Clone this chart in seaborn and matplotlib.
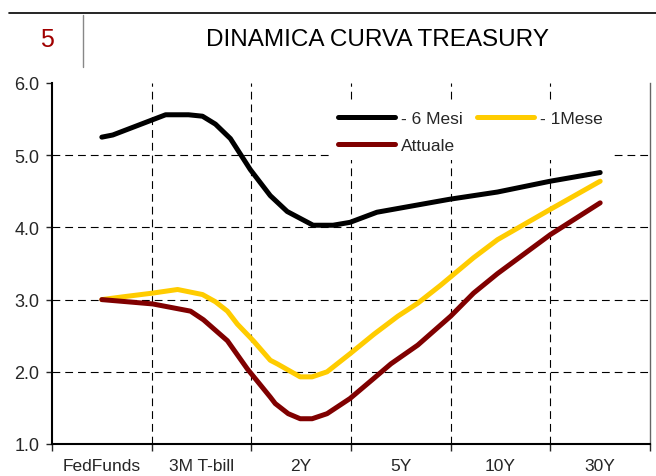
"""
plot.py - Dinamica curva Treasury (yield curve now vs 1 month / 6 months ago).
"""

import matplotlib
matplotlib.use('Agg')
import matplotlib.pyplot as plt
import seaborn as sns
import pandas as pd

# Category labels on the x axis
CATEGORIES = ['FedFunds', '3M T-bill', '2Y', '5Y', '10Y', '30Y']

# Curve (x in category units, 0 = FedFunds)
MESI6_X = [0.0, 0.11, 0.64, 0.87, 1.01, 1.14, 1.29, 1.49, 1.69, 1.86,
           2.12, 2.32, 2.49, 2.76, 3.49, 3.97, 4.50, 5.00]
MESI6_Y = [5.25, 5.28, 5.56, 5.56, 5.54, 5.43, 5.23, 4.80, 4.44, 4.22,
           4.03, 4.03, 4.07, 4.21, 4.39, 4.49, 4.64, 4.76]

MESE1_X = [0.0, 0.22, 0.51, 0.76, 1.01, 1.14, 1.26, 1.36, 1.52, 1.69,
           1.76, 1.99, 2.11, 2.26, 2.49, 2.73, 2.97, 3.17, 3.40, 3.73,
           3.97, 4.50, 5.00]
MESE1_Y = [3.00, 3.04, 3.09, 3.14, 3.07, 2.97, 2.84, 2.66, 2.43, 2.16,
           2.11, 1.93, 1.93, 2.00, 2.25, 2.52, 2.77, 2.95, 3.20, 3.58,
           3.83, 4.25, 4.64]

ATTUALE_X = [0.0, 0.51, 0.89, 1.02, 1.26, 1.46, 1.69, 1.74, 1.87, 1.99,
             2.11, 2.26, 2.49, 2.73, 2.90, 3.17, 3.50, 3.73, 3.97, 4.50,
             5.00]
ATTUALE_Y = [3.00, 2.94, 2.84, 2.72, 2.43, 2.04, 1.65, 1.56, 1.42, 1.35,
             1.35, 1.42, 1.63, 1.91, 2.11, 2.37, 2.77, 3.09, 3.36, 3.90,
             4.34]

SERIES = ['- 6 Mesi', '- 1Mese', 'Attuale']
COLORS = {'- 6 Mesi': '#000000', '- 1Mese': '#FFCC00', 'Attuale': '#800000'}

Y_TICKS = [1.0, 2.0, 3.0, 4.0, 5.0, 6.0]
LW = 3.6

sns.set_style('white')
plt.rcParams['font.family'] = ['Liberation Sans', 'DejaVu Sans']

df = pd.concat([
    pd.DataFrame({'x': MESI6_X, 'y': MESI6_Y, 'serie': SERIES[0]}),
    pd.DataFrame({'x': MESE1_X, 'y': MESE1_Y, 'serie': SERIES[1]}),
    pd.DataFrame({'x': ATTUALE_X, 'y': ATTUALE_Y, 'serie': SERIES[2]}),
], ignore_index=True)

fig = plt.figure(figsize=(6.56, 4.77), dpi=100)
ax = fig.add_axes([52 / 656, 32 / 477, 598 / 656, 361 / 477])

sns.lineplot(data=df, x='x', y='y', hue='serie', hue_order=SERIES,
             palette=COLORS, sort=False, estimator=None, linewidth=LW,
             solid_capstyle='round', solid_joinstyle='round', ax=ax)

ax.set_xlim(-0.5, 5.5)
ax.set_ylim(1.0, 6.0)

# y axis
ax.set_yticks(Y_TICKS)
ax.set_yticklabels([f'{v:.1f}' for v in Y_TICKS], fontsize=13)
ax.tick_params(axis='y', which='major', direction='out', length=4,
               width=1, pad=5, left=True)

# x axis: labels at the categories, ticks between them
ax.set_xticks(range(len(CATEGORIES)))
ax.set_xticklabels(CATEGORIES, fontsize=12.5)
ax.set_xticks([i + 0.5 for i in range(-1, len(CATEGORIES))], minor=True)
ax.tick_params(axis='x', which='major', length=0, pad=10)
ax.tick_params(axis='x', which='minor', direction='out', length=5,
               width=1, bottom=True)

dash = (0, (7, 4.5))
for yv in Y_TICKS[1:-1]:
    ax.axhline(yv, color='black', linewidth=0.8, linestyle=dash, zorder=0)
for xv in [i + 0.5 for i in range(len(CATEGORIES) - 1)]:
    ax.axvline(xv, color='black', linewidth=0.8, linestyle=dash, zorder=0)

for side in ['left', 'bottom']:
    ax.spines[side].set_color('black')
    ax.spines[side].set_linewidth(1.5)
ax.spines['top'].set_visible(False)
ax.spines['right'].set_color('#666666')
ax.spines['right'].set_linewidth(1.0)

ax.set_xlabel('')
ax.set_ylabel('')

# legend: two rows, filled column-wise
handles, labels = ax.get_legend_handles_labels()
hmap = dict(zip(labels, handles))
order = ['- 6 Mesi', 'Attuale', '- 1Mese']
leg = ax.legend([hmap[k] for k in order], order, ncol=2, loc='upper left',
                bbox_to_anchor=(0.452, 0.965), fontsize=12.5, frameon=True,
                framealpha=1, facecolor='white', edgecolor='none',
                handlelength=3.3, handletextpad=0.35, columnspacing=0.8,
                labelspacing=0.65, borderpad=0.4, fancybox=False)
for line in leg.get_lines():
    line.set_linewidth(LW)
    line.set_solid_capstyle('round')

# header
fig.add_artist(plt.Line2D([9 / 656, 1.0], [1 - 14 / 477, 1 - 14 / 477],
                          color='black', linewidth=1.2))
fig.add_artist(plt.Line2D([83 / 656, 83 / 656], [1 - 16 / 477, 1 - 68 / 477],
                          color='#888888', linewidth=1.0))
fig.text(47 / 656, 1 - 40 / 477, '5', color='#A00000', fontsize=18,
         ha='center', va='center')
fig.text(378 / 656, 1 - 40 / 477, 'DINAMICA CURVA TREASURY', color='black',
         fontsize=17.5, ha='center', va='center')

fig.savefig('out.png', dpi=100)
